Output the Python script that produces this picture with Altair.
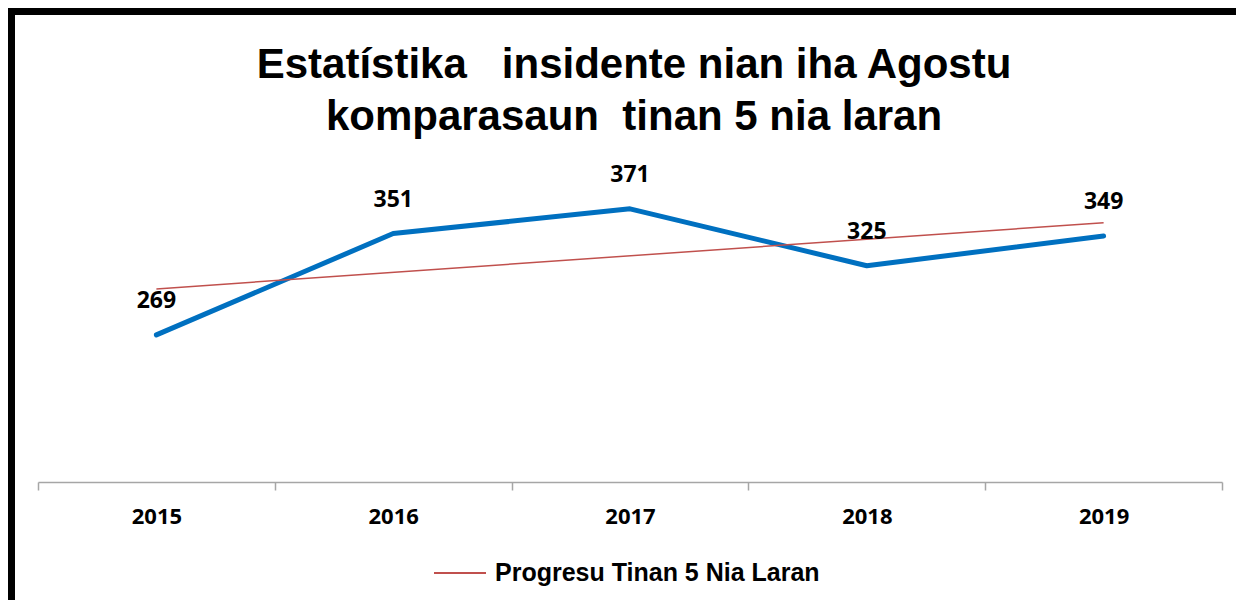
import altair as alt
import pandas as pd

years = [2015, 2016, 2017, 2018, 2019]
incidents = [269, 351, 371, 325, 349]
tick_years = [2014.5, 2015, 2015.5, 2016, 2016.5, 2017, 2017.5, 2018, 2018.5, 2019, 2019.5]
title_lines = ["Estatístika\u00a0\u00a0 insidente nian iha Agostu", "komparasaun\u00a0 tinan 5 nia laran"]
trend_name = "Progresu Tinan 5 Nia Laran"

df = pd.DataFrame({"year": years, "count": incidents})
frame_df = pd.DataFrame({"k": [0]})

W, H = 1184, 309
PAD = {"left": 30, "top": 165, "right": 14, "bottom": 118}

x_axis = alt.Axis(
    values=tick_years, title=None, grid=False,
    domainColor="#A6A6A6", domainWidth=1.5,
    tickColor="#A6A6A6", tickWidth=1.5, tickSize=8,
    tickOpacity={"condition": {"test": "datum.value % 1 === 0", "value": 0}, "value": 1},
    labelExpr="datum.value % 1 === 0 ? toString(datum.value) : ''",
    labelFont="Open Sans", labelFontSize=22, labelFontWeight="bold", labelColor="black",
    labelPadding=16, labelOverlap=False, labelFlush=False,
)
x_enc = alt.X("year:Q", scale=alt.Scale(domain=[2014.5, 2019.5], nice=False, zero=False), axis=x_axis)
y_enc = alt.Y("count:Q", scale=alt.Scale(domain=[150, 400], nice=False, zero=False), axis=None)

line = alt.Chart(df).mark_line(color="#0070C0", strokeWidth=5, strokeCap="round", strokeJoin="round").encode(
    x=x_enc, y=y_enc
)

trend = alt.Chart(df).transform_regression("year", "count", method="linear").transform_calculate(
    series=f"'{trend_name}'"
).mark_line(strokeWidth=1.5).encode(
    x=x_enc, y=y_enc,
    color=alt.Color(
        "series:N",
        scale=alt.Scale(domain=[trend_name], range=["#C0504D"]),
        legend=alt.Legend(
            title=None, orient="none", legendX=395, legendY=373, padding=0,
            symbolType="stroke", symbolSize=2704, symbolStrokeWidth=2,
            labelFont="Liberation Sans", labelFontSize=25, labelFontWeight="bold",
            labelColor="black", labelLimit=600, labelOffset=8,
        ),
    ),
)

labels = alt.Chart(df).mark_text(
    dy=-34, fontSize=23, fontWeight="bold", font="Open Sans", color="black", baseline="middle"
).encode(x=x_enc, y=y_enc, text="count:Q")

left_bar = alt.Chart(frame_df).mark_rule(color="black", strokeWidth=7).encode(
    x=alt.value(-26.5), y=alt.value(-PAD["top"]), y2=alt.value(H + PAD["bottom"])
)
top_bar = alt.Chart(frame_df).mark_rule(color="black", strokeWidth=7).encode(
    x=alt.value(-PAD["left"]), x2=alt.value(W + PAD["right"]), y=alt.value(-PAD["top"] + 3.5)
)

chart = alt.layer(line, trend, labels, left_bar, top_bar).properties(
    width=W, height=H,
    padding=PAD,
    autosize=alt.AutoSizeParams(type="none"),
    background="white",
    title=alt.TitleParams(
        text=title_lines, font="Liberation Sans", fontSize=42, fontWeight="bold",
        color="black", lineHeight=52, anchor="middle", frame="group", offset=-134, dx=4,
    ),
).configure_view(strokeWidth=0)

chart.save("out.html", embed_options={"renderer": "svg", "actions": False})
